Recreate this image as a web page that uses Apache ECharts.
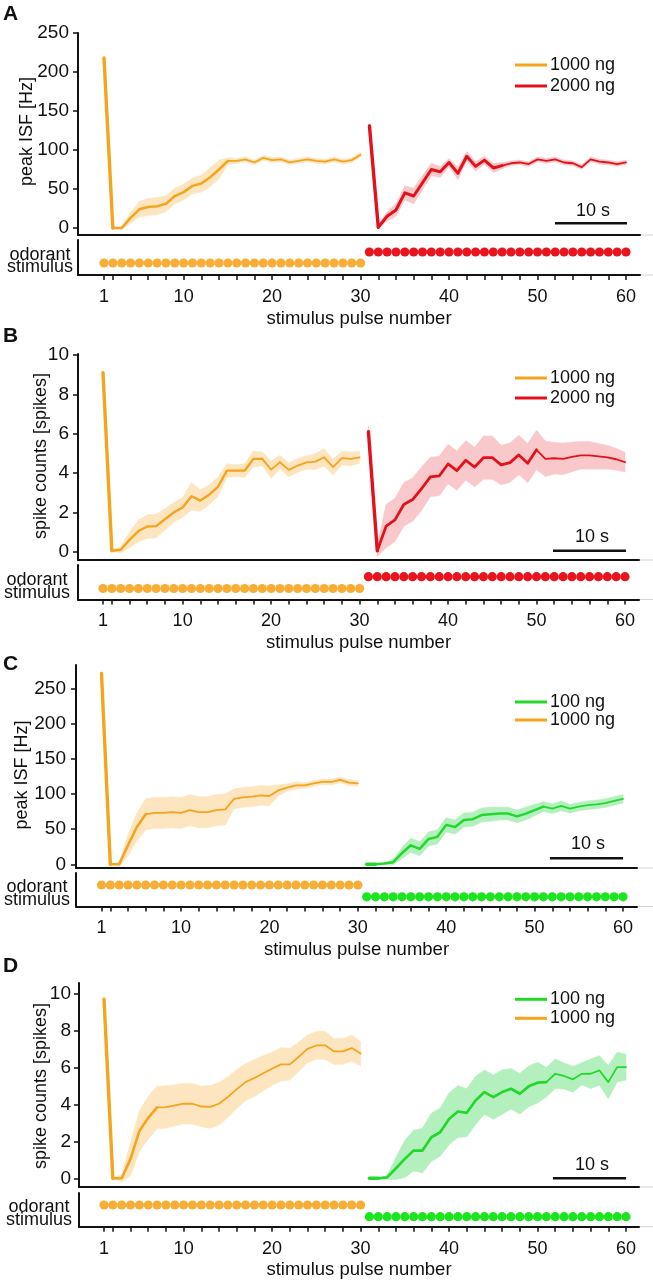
<!DOCTYPE html>
<html><head><meta charset="utf-8">
<script src="https://cdn.jsdelivr.net/npm/echarts@6/dist/echarts.min.js"></script>
<style>html,body{margin:0;padding:0;background:#fff}#c{width:653px;height:1280px}</style>
</head><body><div id="c"></div>
<script>
// ---------- data ----------
const pulsesFirst  = [1,2,3,4,5,6,7,8,9,10,11,12,13,14,15,16,17,18,19,20,21,22,23,24,25,26,27,28,29,30];
const pulsesSecond = [31,32,33,34,35,36,37,38,39,40,41,42,43,44,45,46,47,48,49,50,51,52,53,54,55,56,57,58,59,60];
const xTickLabels = [1,10,20,30,40,50,60];
const xTickMarks  = [1,2,4,6,8,10,12,14,16,18,20,22,24,26,28,30,32,34,36,38,40,42,44,46,48,50,52,54,56,58,60];
const yTicksHz     = [0,50,100,150,200,250];
const yTicksSpikes = [0,2,4,6,8,10];

// Panel A: peak ISF, 1000 ng then 2000 ng
const aFirstVals  = [218,0,0,13,24,27,28,31,41,46,54,57,65,75,86,86,88,84,90,87,88,84,86,88,86,85,88,85,87,94];
const aFirstErr   = [3,0,2,7,10,11,11,10,10,10,10,11,12,12,4,3,3,3,3,3,3,3,3,3,3,3,3,3,3,3];
const aSecondVals = [131,1,15,23,45,41,58,75,72,84,70,92,79,87,77,80,83,84,82,88,86,88,84,83,78,88,85,84,82,84];
const aSecondErr  = [2,2,6,8,9,10,9,8,7,5,8,6,6,5,6,4,3,3,3,3,3,3,3,3,3,3,3,3,3,3];
// Panel B: spike counts, 1000 ng then 2000 ng
const bFirstVals  = [9.1,0.05,0.1,0.6,1.05,1.28,1.3,1.65,2.0,2.25,2.82,2.6,2.9,3.3,4.12,4.12,4.12,4.72,4.72,4.17,4.55,4.16,4.38,4.54,4.58,4.8,4.3,4.76,4.72,4.8];
const bFirstErr   = [0.1,0.05,0.15,0.4,0.55,0.6,0.6,0.55,0.5,0.5,0.7,0.55,0.5,0.5,0.35,0.3,0.35,0.4,0.35,0.45,0.35,0.35,0.35,0.35,0.4,0.45,0.4,0.35,0.35,0.3];
const bSecondVals = [6.1,0.05,1.3,1.62,2.4,2.65,3.2,3.8,3.85,4.46,4.12,4.65,4.3,4.78,4.78,4.41,4.53,4.92,4.5,5.18,4.72,4.75,4.72,4.82,4.9,4.9,4.85,4.8,4.7,4.55];
const bSecondErr  = [0.3,0.3,1.1,1.1,1.1,1.1,1.1,1.0,1.0,1.0,1.0,1.0,1.0,1.1,1.1,1.0,1.0,1.0,1.0,1.0,0.9,0.8,0.8,0.75,0.7,0.7,0.65,0.6,0.55,0.5];
// Panel C: peak ISF, 1000 ng then 100 ng
const cFirstVals  = [271,0,0,27,53,71,73,73,74,73,77,74,74,77,78,93,95,96,98,97,105,109,112,112,115,117,117,120,116,115];
const cFirstErr   = [3,0,3,15,20,22,22,22,22,22,22,22,22,22,22,14,14,14,14,14,8,5,5,4,4,4,4,4,4,4];
const cSecondVals = [0,0,1,3,16,27,22,36,39,56,53,63,64,70,71,72,72,68,72,77,82,79,83,79,82,84,85,87,90,93];
const cSecondErr  = [0,0,1,4,8,10,10,10,10,10,10,10,10,10,10,9,9,9,9,8,7,7,7,6,6,6,6,6,6,6];
// Panel D: spike counts, 1000 ng then 100 ng
const dFirstVals  = [9.68,0,0,1.05,2.55,3.27,3.83,3.85,3.94,4.04,4.03,3.88,3.86,4.03,4.39,4.82,5.2,5.42,5.68,5.92,6.16,6.16,6.56,7.0,7.18,7.19,6.86,6.86,7.04,6.74];
const dFirstErr   = [0.1,0,0.2,0.9,1.1,1.15,1.15,1.15,1.1,1.1,1.1,1.1,1.15,1.15,1.1,1.05,1.0,1.0,0.95,0.9,0.9,0.85,0.8,0.75,0.75,0.75,0.7,0.7,0.7,0.65];
const dSecondVals = [0,0,0.05,0.54,1.05,1.5,1.5,2.22,2.49,3.21,3.61,3.54,4.21,4.66,4.39,4.66,4.84,4.57,4.97,5.17,5.2,5.65,5.53,5.35,5.65,5.65,5.83,5.2,6.01,6.01];
const dSecondErr  = [0,0,0.1,0.6,1.0,1.1,1.2,1.3,1.3,1.4,1.4,1.3,1.3,1.2,1.2,1.2,1.1,1.1,1.1,1.1,0.8,0.8,0.7,0.7,0.6,0.8,0.8,0.9,0.8,0.7];

const panelLetters = ['A','B','C','D'];
const yTitles = ['peak ISF [Hz]','spike counts [spikes]','peak ISF [Hz]','spike counts [spikes]'];
const firstDoses  = ['1000 ng','1000 ng','1000 ng','1000 ng'];
const secondDoses = ['2000 ng','2000 ng','100 ng','100 ng'];
const legendOrders = [['1000 ng','2000 ng'],['1000 ng','2000 ng'],['100 ng','1000 ng'],['100 ng','1000 ng']];
const xTitle = 'stimulus pulse number';
const stimLabel = ['odorant','stimulus'];
const scaleBarLabel = '10 s';

// ---------- styles / layout ----------
const FONT = '"Liberation Sans", Arial, Helvetica, sans-serif';
const INK = '#111';
const COL = {
  '100 ng':  {line:'#22D92B', dot:'#1CE41F', band:'#B3F0BE'},
  '1000 ng': {line:'#F4A41D', dot:'#F8AE36', band:'#FCE5BF'},
  '2000 ng': {line:'#E3111B', dot:'#E8151F', band:'#F8C8CA'}
};
const LAY = [
 {axisX:78, p1x:104, p60x:626, rightX:640, mainTop:33, mainBottom:235, zeroY:228, topTickY:33,
  stimTop:240, stimBottom:275, lowY:263, highY:252, legendTop:56, legendGap:3, yLabelMargin:9,
  letterY:14, yTitleX:27.5, yTitleY:131.5, odorX:40, odorY:255, stimTextY:267.5,
  barX1:555, barX2:627, barY:223.3, barTextX:593, barTextY:211, breaks:[14,15], w2:[2.5,3.0]},
 {axisX:78, p1x:103, p60x:625, rightX:639, mainTop:354, mainBottom:560, zeroY:551.7, topTickY:355,
  stimTop:565, stimBottom:599.5, lowY:588.5, highY:576.7, legendTop:369, legendGap:2, yLabelMargin:9,
  letterY:336, yTitleX:41, yTitleY:456, odorX:37, odorY:580, stimTextY:593,
  barX1:553, barX2:626, barY:550.7, barTextX:592, barTextY:537.5, breaks:[18,19], w2:[2.4,2.8]},
 {axisX:76, p1x:101.5, p60x:623, rightX:637, mainTop:665, mainBottom:868, zeroY:864.3, topTickY:688.3,
  stimTop:873, stimBottom:906.5, lowY:896.8, highY:885, legendTop:693, legendGap:0, yLabelMargin:10,
  letterY:664, yTitleX:22.5, yTitleY:775, odorX:37, odorY:886.7, stimTextY:900.3,
  barX1:550, barX2:623, barY:858.3, barTextX:588, barTextY:844, breaks:[5,20], w2:[2.6,2.5]},
 {axisX:79, p1x:104, p60x:626, rightX:639, mainTop:983, mainBottom:1187, zeroY:1178.3, topTickY:993.3,
  stimTop:1193, stimBottom:1226.7, lowY:1216.7, highY:1205, legendTop:990.3, legendGap:1, yLabelMargin:8,
  letterY:966.7, yTitleX:41, yTitleY:1086, odorX:39, odorY:1206.7, stimTextY:1220.3,
  barX1:553, barX2:626, barY:1178.3, barTextX:592, barTextY:1165, breaks:[6,20], w2:[2.6,2.7]}
];
const panelData = [
  {yTicks:yTicksHz,     f:[aFirstVals,aFirstErr], s:[aSecondVals,aSecondErr]},
  {yTicks:yTicksSpikes, f:[bFirstVals,bFirstErr], s:[bSecondVals,bSecondErr]},
  {yTicks:yTicksHz,     f:[cFirstVals,cFirstErr], s:[cSecondVals,cSecondErr]},
  {yTicks:yTicksSpikes, f:[dFirstVals,dFirstErr], s:[dSecondVals,dSecondErr]}
];

// ---------- build ----------
const grids=[], xAxes=[], yAxes=[], series=[], legends=[], graphics=[];

function bandRender(pulses, lo, hi, color){
  return function(params, api){
    if (params.dataIndex !== 0) return {type:'group', children:[]};
    const pts=[];
    for (let k=0;k<pulses.length;k++) pts.push(api.coord([pulses[k], hi[k]]));
    for (let k=pulses.length-1;k>=0;k--) pts.push(api.coord([pulses[k], lo[k]]));
    return {type:'polygon', shape:{points:pts}, style:{fill:color, stroke:color, lineWidth:0.6}};
  };
}
function addCurve(ax, pulses, vals, errs, dose, brk, wMid, wEnd){
  const c = COL[dose];
  const lo = vals.map((v,k)=>v-errs[k]), hi = vals.map((v,k)=>v+errs[k]);
  series.push({type:'custom', name:'band '+dose, xAxisIndex:ax, yAxisIndex:ax, z:1, silent:true,
    data: pulses.map((p,k)=>[p, lo[k], hi[k]]), encode:{x:0, y:[1,2]},
    renderItem: bandRender(pulses, lo, hi, c.band)});
  const segs = [[0,1,3.4],[1,brk,wMid],[brk,pulses.length-1,wEnd]];
  segs.forEach(([a,b,w])=>{
    series.push({type:'line', name:dose, xAxisIndex:ax, yAxisIndex:ax, z:3, silent:true,
      color:c.line, symbol:'none', showSymbol:false,
      lineStyle:{color:c.line, width:w, join:'round', cap:'round'},
      itemStyle:{color:c.line},
      data: pulses.slice(a,b+1).map((p,j)=>[p, vals[a+j]])});
  });
}

LAY.forEach((L,i)=>{
  const D = panelData[i];
  const step = (L.p60x - L.p1x)/59;
  const xMin = 1 - (L.p1x - L.axisX)/step;
  const xMax = 60 + (L.rightX - L.p60x)/step;
  const topVal = D.yTicks[D.yTicks.length-1];
  const unit = (L.zeroY - L.topTickY)/topVal;
  const yMin = -(L.mainBottom - L.zeroY)/unit;
  const yMax = (L.zeroY - L.mainTop)/unit;
  const lineS = {show:true, onZero:false, lineStyle:{color:INK, width:2}};
  // main grid
  grids.push({left:L.axisX, top:L.mainTop, width:L.rightX-L.axisX, height:L.mainBottom-L.mainTop, outerBoundsMode:'none', containLabel:false});
  xAxes.push({type:'value', gridIndex:2*i, min:xMin, max:xMax, axisLine:lineS, axisTick:{show:false}, axisLabel:{show:false}, splitLine:{show:false}});
  yAxes.push({type:'value', gridIndex:2*i, min:yMin, max:yMax, axisLine:lineS,
    axisTick:{show:true, customValues:D.yTicks, length:5, lineStyle:{color:INK, width:1.5}},
    axisLabel:{show:true, customValues:D.yTicks, margin:L.yLabelMargin, fontSize:19, color:INK, fontFamily:FONT},
    splitLine:{show:false}});
  // stimulus grid
  const sUnit = L.lowY - L.highY;
  grids.push({left:L.axisX, top:L.stimTop, width:L.rightX-L.axisX, height:L.stimBottom-L.stimTop, outerBoundsMode:'none', containLabel:false});
  xAxes.push({type:'value', gridIndex:2*i+1, min:xMin, max:xMax, axisLine:lineS,
    axisTick:{show:true, customValues:xTickMarks, length:5, lineStyle:{color:INK, width:1.5}},
    axisLabel:{show:true, customValues:xTickLabels, margin:13, fontSize:18, color:INK, fontFamily:FONT},
    splitLine:{show:false},
    name:xTitle, nameLocation:'middle', nameGap:34, nameTextStyle:{fontSize:18.5, color:INK, fontFamily:FONT}});
  yAxes.push({type:'value', gridIndex:2*i+1, min:-(L.stimBottom-L.lowY)/sUnit, max:1+(L.highY-L.stimTop)/sUnit,
    axisLine:lineS, axisTick:{show:false}, axisLabel:{show:false}, splitLine:{show:false}});

  // curves
  addCurve(2*i, pulsesFirst, D.f[0], D.f[1], firstDoses[i], L.breaks[0], L.w2[0], 1.8);
  addCurve(2*i, pulsesSecond, D.s[0], D.s[1], secondDoses[i], L.breaks[1], L.w2[1], 1.8);

  // stimulus dots (row by dose rank)
  const d1 = parseFloat(firstDoses[i]), d2 = parseFloat(secondDoses[i]);
  const r1 = d1 < d2 ? 0 : 1, r2 = 1 - r1;
  [[pulsesFirst, firstDoses[i], r1],[pulsesSecond, secondDoses[i], r2]].forEach(([ps,dose,r])=>{
    series.push({type:'scatter', name:'stim '+dose, xAxisIndex:2*i+1, yAxisIndex:2*i+1, silent:true, z:2,
      symbol:'circle', symbolSize:9.2, itemStyle:{color:COL[dose].dot, opacity:1},
      data: ps.map(p=>[p, r])});
  });

  legends.push({data:legendOrders[i], orient:'vertical', left:515, top:L.legendTop, itemWidth:32, itemHeight:3,
    itemGap:L.legendGap, icon:'rect', selectedMode:false, padding:0,
    textStyle:{fontSize:18, color:INK, fontFamily:FONT, padding:[0,0,0,-2]}});

  // annotations
  graphics.push({type:'text', x:3, y:L.letterY, style:{text:panelLetters[i], font:'bold 21px '+FONT, fill:INK, align:'left', verticalAlign:'middle'}});
  graphics.push({type:'text', x:L.yTitleX, y:L.yTitleY, rotation:Math.PI/2, style:{text:yTitles[i], font:'18px '+FONT, fill:INK, align:'center', verticalAlign:'middle'}});
  graphics.push({type:'text', x:L.odorX, y:L.odorY, style:{text:stimLabel[0], font:'18px '+FONT, fill:INK, align:'center', verticalAlign:'middle'}});
  graphics.push({type:'text', x:L.odorX, y:L.stimTextY, style:{text:stimLabel[1], font:'18px '+FONT, fill:INK, align:'center', verticalAlign:'middle'}});
  graphics.push({type:'line', shape:{x1:L.barX1, y1:L.barY, x2:L.barX2, y2:L.barY}, style:{stroke:INK, lineWidth:2.6}});
  graphics.push({type:'text', x:L.barTextX, y:L.barTextY, style:{text:scaleBarLabel, font:'18px '+FONT, fill:INK, align:'center', verticalAlign:'middle'}});
  [L.mainBottom, L.stimBottom].forEach(yy=>{
    graphics.push({type:'line', shape:{x1:L.rightX, y1:yy, x2:653, y2:yy}, style:{stroke:'#d4d4d4', lineWidth:1}});
  });
});

const chart = echarts.init(document.getElementById('c'), null, {renderer:'canvas'});
chart.setOption({
  animation:false,
  backgroundColor:'#fff',
  textStyle:{fontFamily:FONT},
  grid:grids, xAxis:xAxes, yAxis:yAxes, legend:legends, series:series,
  graphic:{elements:graphics}
});
</script>
</body></html>
